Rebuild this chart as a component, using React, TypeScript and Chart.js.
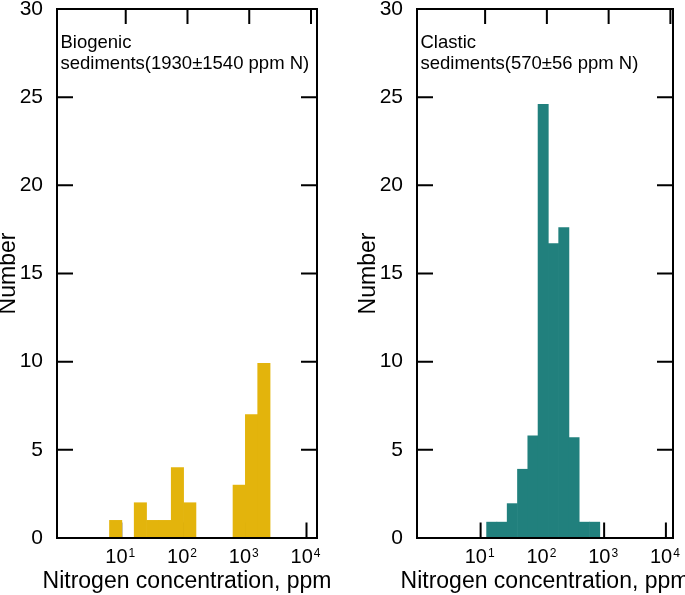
import React, { useEffect, useRef } from 'react';
import { Chart, registerables } from 'chart.js';

Chart.register(...registerables);

// ---- Data (bin centres in log10(ppm), counts) ----
const biogenicLogN = [0.91, 1.31, 1.51, 1.71, 1.91, 2.11, 2.91, 3.11, 3.31];
const biogenicCount = [1, 2, 1, 1, 4, 2, 3, 7, 9.9];

const clasticLogN = [1.18, 1.347, 1.513, 1.68, 1.847, 2.013, 2.18, 2.347, 2.513, 2.68, 2.847];
const clasticCount = [0.9, 0.9, 1.95, 3.9, 5.8, 24.6, 16.7, 17.6, 5.7, 0.9, 0.9];

const xDecadeExponents = [1, 2, 3, 4];
const yTickValues = [0, 5, 10, 15, 20, 25, 30];

const biogenicLabel = ['Biogenic', 'sediments(1930±1540 ppm N)'];
const clasticLabel = ['Clastic', 'sediments(570±56 ppm N)'];
const xTitle = 'Nitrogen concentration, ppm';
const yTitle = 'Number';

const FONT = '"Liberation Sans", Arial, Helvetica, sans-serif';
const TOP_TICK_SHIFT = 4.5;

function makeDecor(label: string[]) {
  return {
    id: 'decor',
    beforeDatasetsDraw(chart: any) {
      const { ctx, chartArea: a, scales } = chart;
      const xs = scales.x;
      const ys = scales.y;
      ctx.save();
      ctx.strokeStyle = '#000';
      ctx.lineWidth = 2;
      ctx.beginPath();
      for (const v of yTickValues) {
        const py = ys.getPixelForValue(v);
        ctx.moveTo(a.left, py);
        ctx.lineTo(a.left + 16, py);
        ctx.moveTo(a.right - 16, py);
        ctx.lineTo(a.right, py);
      }
      for (const e of xDecadeExponents) {
        const px = xs.getPixelForValue(e);
        ctx.moveTo(px, a.bottom);
        ctx.lineTo(px, a.bottom - 15.5);
        ctx.moveTo(px + TOP_TICK_SHIFT, a.top);
        ctx.lineTo(px + TOP_TICK_SHIFT, a.top + 15);
      }
      ctx.stroke();
      ctx.restore();
    },
    afterDatasetsDraw(chart: any) {
      const { ctx, chartArea: a, scales } = chart;
      const xs = scales.x;
      ctx.save();
      // frame
      ctx.strokeStyle = '#000';
      ctx.lineWidth = 2;
      ctx.strokeRect(a.left, a.top, a.right - a.left, a.bottom - a.top);

      ctx.fillStyle = '#000';
      // annotation
      ctx.font = `18.5px ${FONT}`;
      ctx.textAlign = 'left';
      ctx.textBaseline = 'alphabetic';
      ctx.fillText(label[0], a.left + 3.5, a.top + 38.5);
      ctx.fillText(label[1], a.left + 3.5, a.top + 60);

      // x tick labels 10^n
      for (const e of xDecadeExponents) {
        const px = xs.getPixelForValue(e);
        ctx.font = `20px ${FONT}`;
        const base = '10';
        const wb = ctx.measureText(base).width;
        ctx.font = `12px ${FONT}`;
        const sup = String(e);
        const ws = ctx.measureText(sup).width;
        const total = wb + 1 + ws;
        const x0 = px - 1 - total / 2;
        ctx.font = `20px ${FONT}`;
        ctx.fillText(base, x0, a.bottom + 24.7);
        ctx.font = `12px ${FONT}`;
        ctx.fillText(sup, x0 + wb + 1, a.bottom + 19);
      }

      // x title
      ctx.font = `23px ${FONT}`;
      ctx.textAlign = 'center';
      ctx.textBaseline = 'middle';
      ctx.fillText(xTitle, (a.left + a.right) / 2, a.bottom + 43.5);

      // y title
      ctx.save();
      ctx.translate(a.left - 48.5, (a.top + a.bottom) / 2);
      ctx.rotate(-Math.PI / 2);
      ctx.fillText(yTitle, 0, 0);
      ctx.restore();

      ctx.restore();
    },
  };
}

type PanelProps = {
  logN: number[];
  counts: number[];
  color: string;
  label: string[];
  canvasLeft: number;
  canvasWidth: number;
  padLeft: number;
  padRight: number;
  xMin: number;
  xMax: number;
};

function Panel(p: PanelProps) {
  const ref = useRef<HTMLCanvasElement>(null);
  useEffect(() => {
    const chart = new Chart(ref.current as HTMLCanvasElement, {
      type: 'bar',
      data: {
        datasets: [
          {
            data: p.logN.map((x, i) => ({ x, y: p.counts[i] })),
            backgroundColor: p.color,
            borderWidth: 0,
            barPercentage: 1,
            categoryPercentage: 1,
          } as any,
        ],
      },
      options: {
        animation: false,
        responsive: false,
        events: [],
        layout: { padding: { left: p.padLeft, right: p.padRight, top: 9, bottom: 0 } },
        plugins: { legend: { display: false }, tooltip: { enabled: false } },
        scales: {
          x: {
            type: 'linear',
            min: p.xMin,
            max: p.xMax,
            offset: false,
            grid: { display: false },
            border: { display: false },
            ticks: { display: false },
            afterFit: (s: any) => {
              s.height = 57;
              s.paddingLeft = 0;
              s.paddingRight = 0;
            },
          },
          y: {
            min: 0,
            max: 30,
            grid: { display: false },
            border: { display: false },
            ticks: {
              stepSize: 5,
              color: '#000',
              padding: 6,
              font: { family: FONT, size: 21 },
            },
            afterFit: (s: any) => {
              s.width = 57;
              s.paddingTop = 0;
              s.paddingBottom = 0;
            },
          },
        },
      } as any,
      plugins: [makeDecor(p.label)],
    });
    return () => chart.destroy();
  }, []);
  return (
    <canvas
      ref={ref}
      width={p.canvasWidth}
      height={595}
      style={{ position: 'absolute', left: p.canvasLeft, top: 0, display: 'block' }}
    />
  );
}

export default function App() {
  return (
    <div style={{ position: 'absolute', left: 0, top: 0, width: 685, height: 595, background: '#fff' }}>
      <Panel
        logN={biogenicLogN}
        counts={biogenicCount}
        color="#e3b40c"
        label={biogenicLabel}
        canvasLeft={0}
        canvasWidth={342}
        padLeft={0}
        padRight={25}
        xMin={-0.04}
        xMax={4.17}
      />
      <Panel
        logN={clasticLogN}
        counts={clasticCount}
        color="#21807d"
        label={clasticLabel}
        canvasLeft={342}
        canvasWidth={343}
        padLeft={18}
        padRight={12}
        xMin={-0.03}
        xMax={4.115}
      />
    </div>
  );
}
